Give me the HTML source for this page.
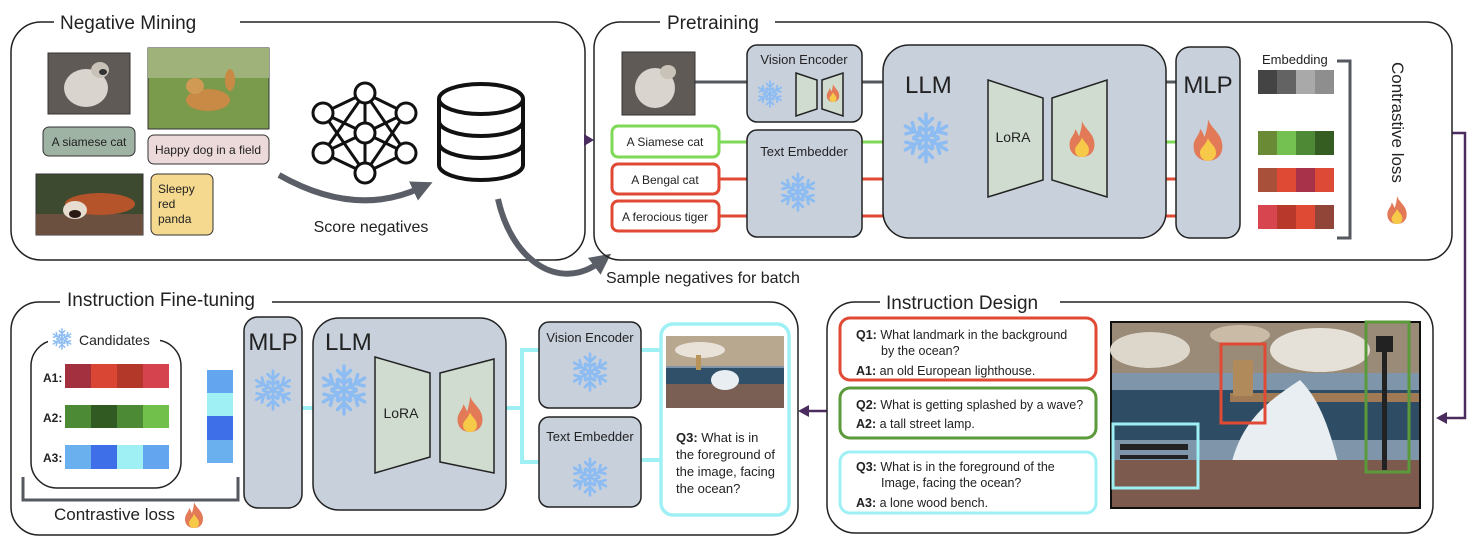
<!DOCTYPE html>
<html><head><meta charset="utf-8"><style>
html,body{margin:0;padding:0;background:#fff;}
svg{display:block;}
text{font-family:"Liberation Sans",sans-serif;fill:#222;}
</style></head><body>
<svg width="1478" height="550" viewBox="0 0 1478 550" xmlns="http://www.w3.org/2000/svg">
<defs>
<symbol id="sf" viewBox="-12 -12 24 24">
<g stroke="#8cbcf2" stroke-width="1.6" fill="none" stroke-linecap="round">
<g id="arm"><line x1="0" y1="0" x2="0" y2="-11"/><polyline points="-3,-9 0,-6 3,-9"/><polyline points="-2.5,-5 0,-3 2.5,-5"/></g>
<use href="#arm" transform="rotate(60)"/><use href="#arm" transform="rotate(120)"/><use href="#arm" transform="rotate(180)"/><use href="#arm" transform="rotate(240)"/><use href="#arm" transform="rotate(300)"/>
</g></symbol>
<symbol id="fire" viewBox="0 0 20 26">
<path d="M10,0 C12,6 19,9 19,17 C19,23 15,26 10,26 C5,26 1,23 1,17 C1,12 5,10 5,6 C7,8 7,10 8,11 C9,7 10,4 10,0Z" fill="#e27a58"/>
<path d="M10,12 C12,16 15,17 15,21 C15,24 13,26 10,26 C7,26 5,24 5,21 C5,18 8,17 10,12Z" fill="#f7c948"/>
</symbol>
<marker id="ag" markerWidth="3.5" markerHeight="3.5" refX="1.2" refY="1.75" orient="auto"><path d="M0,0 L3.5,1.75 L0,3.5Z" fill="#5a5e66"/></marker>
</defs>

<!-- ===== Negative Mining ===== -->
<rect x="11" y="22" width="574" height="238" rx="30" fill="none" stroke="#222" stroke-width="1.5"/>
<rect x="54" y="10" width="186" height="24" fill="#fff"/>
<text x="60" y="29" font-size="19">Negative Mining</text>
<!-- cat -->
<rect x="48" y="53" width="82" height="61" fill="#5f5a55" stroke="#333"/>
<ellipse cx="86" cy="88" rx="22" ry="19" fill="#d9d5ce"/>
<ellipse cx="100" cy="70" rx="9" ry="8" fill="#c9c2b8"/><ellipse cx="103" cy="72" rx="4" ry="3" fill="#333"/>
<!-- dog -->
<rect x="148" y="48" width="121" height="81" fill="#7a9a4c" stroke="#333"/>
<rect x="148" y="48" width="121" height="30" fill="#9fb27a"/>
<ellipse cx="208" cy="100" rx="22" ry="11" fill="#c88a45"/><ellipse cx="195" cy="86" rx="9" ry="8" fill="#d09a55"/><ellipse cx="230" cy="80" rx="5" ry="11" fill="#c88a45"/>
<!-- labels -->
<rect x="43" y="127" width="92" height="29" rx="6" fill="#9fb3a4" stroke="#333"/>
<text x="89" y="146" font-size="12" text-anchor="middle">A siamese cat</text>
<rect x="148" y="135" width="121" height="29" rx="6" fill="#ecd9d9" stroke="#333"/>
<text x="208" y="154" font-size="12" text-anchor="middle">Happy dog in a field</text>
<!-- red panda -->
<rect x="36" y="174" width="107" height="61" fill="#3d4a30" stroke="#333"/>
<rect x="36" y="214" width="107" height="21" fill="#6b5040"/>
<ellipse cx="100" cy="204" rx="35" ry="11" fill="#b5532a"/><ellipse cx="75" cy="210" rx="12" ry="9" fill="#e6dcd0"/><ellipse cx="75" cy="214" rx="6" ry="4" fill="#2a1a14"/>
<rect x="151" y="174" width="62" height="61" rx="6" fill="#f5d98f" stroke="#333"/>
<text x="158" y="193" font-size="12">Sleepy</text><text x="158" y="208" font-size="12">red</text><text x="158" y="223" font-size="12">panda</text>
<!-- NN icon -->
<g stroke="#111" stroke-width="3" fill="none">
<line x1="365" y1="93" x2="323" y2="113"/><line x1="365" y1="93" x2="406" y2="113"/>
<line x1="365" y1="93" x2="323" y2="153"/><line x1="365" y1="93" x2="406" y2="153"/>
<line x1="365" y1="173" x2="323" y2="113"/><line x1="365" y1="173" x2="406" y2="113"/>
<line x1="365" y1="173" x2="323" y2="153"/><line x1="365" y1="173" x2="406" y2="153"/>
<line x1="323" y1="113" x2="365" y2="133"/><line x1="406" y1="113" x2="365" y2="133"/>
<line x1="323" y1="153" x2="365" y2="133"/><line x1="406" y1="153" x2="365" y2="133"/>
<line x1="365" y1="93" x2="365" y2="173"/>
</g>
<g stroke="#111" stroke-width="3" fill="#fff">
<circle cx="365" cy="93" r="10"/><circle cx="323" cy="113" r="10"/><circle cx="406" cy="113" r="10"/><circle cx="365" cy="133" r="10"/><circle cx="323" cy="153" r="10"/><circle cx="406" cy="153" r="10"/><circle cx="365" cy="173" r="10"/>
</g>
<!-- DB -->
<g stroke="#111" stroke-width="4" fill="none">
<ellipse cx="481" cy="99" rx="42" ry="15"/>
<path d="M439,99 V165 A42,15 0 0 0 523,165 V99"/>
<path d="M439,121 A42,15 0 0 0 523,121"/>
<path d="M439,143 A42,15 0 0 0 523,143"/>
</g>
<!-- gray arrows -->
<path d="M279,175 Q355,218 420,188" stroke="#5a5e66" stroke-width="6" fill="none" marker-end="url(#ag)"/>
<text x="371" y="232" font-size="16" text-anchor="middle">Score negatives</text>
<path d="M498,199 C512,262 560,292 600,262" stroke="#5a5e66" stroke-width="6" fill="none" marker-end="url(#ag)"/>
<text x="606" y="283" font-size="16">Sample negatives for batch</text>

<!-- purple arrows -->
<g stroke="#4a2d5e" stroke-width="2.5" fill="none">
<line x1="585" y1="140" x2="588" y2="140"/>
<polyline points="1452,133 1465,133 1465,418 1444,418"/>
<line x1="827" y1="411" x2="806" y2="411"/>
</g>
<path d="M594,140 L584,134 L584,146Z" fill="#4a2d5e"/>
<path d="M1436,418 L1447,412 L1447,424Z" fill="#4a2d5e"/>
<path d="M798,411 L809,405 L809,417Z" fill="#4a2d5e"/>

<!-- ===== Pretraining ===== -->
<rect x="594" y="22" width="858" height="238" rx="26" fill="none" stroke="#222" stroke-width="1.5"/>
<rect x="660" y="10" width="115" height="24" fill="#fff"/>
<text x="667" y="29" font-size="19">Pretraining</text>
<g stroke-width="3">
<line x1="695" y1="82" x2="747" y2="82" stroke="#55585f"/>
<line x1="862" y1="82" x2="883" y2="82" stroke="#55585f"/>
<line x1="1166" y1="82" x2="1176" y2="82" stroke="#55585f"/>
<line x1="719" y1="142" x2="747" y2="142" stroke="#7ed957"/>
<line x1="862" y1="142" x2="883" y2="142" stroke="#7ed957"/>
<line x1="1166" y1="142" x2="1176" y2="142" stroke="#7ed957"/>
<line x1="719" y1="179" x2="747" y2="179" stroke="#e04a35"/>
<line x1="862" y1="179" x2="883" y2="179" stroke="#e04a35"/>
<line x1="1166" y1="179" x2="1176" y2="179" stroke="#e04a35"/>
<line x1="719" y1="216" x2="747" y2="216" stroke="#e04a35"/>
<line x1="862" y1="216" x2="883" y2="216" stroke="#e04a35"/>
<line x1="1166" y1="216" x2="1176" y2="216" stroke="#e04a35"/>
</g>
<rect x="622" y="52" width="73" height="63" fill="#5f5a55" stroke="#333"/>
<ellipse cx="655" cy="88" rx="20" ry="20" fill="#d9d5ce"/><ellipse cx="668" cy="72" rx="8" ry="7" fill="#c9c2b8"/>
<rect x="612" y="126" width="107" height="31" rx="6" fill="#fff" stroke="#7ed957" stroke-width="3"/>
<text x="665" y="146" font-size="12" text-anchor="middle">A Siamese cat</text>
<rect x="612" y="164" width="107" height="30" rx="6" fill="#fff" stroke="#e04a35" stroke-width="3"/>
<text x="665" y="184" font-size="12" text-anchor="middle">A Bengal cat</text>
<rect x="612" y="201" width="107" height="30" rx="6" fill="#fff" stroke="#e04a35" stroke-width="3"/>
<text x="665" y="221" font-size="12" text-anchor="middle">A ferocious tiger</text>
<rect x="747" y="45" width="115" height="77" rx="10" fill="#c8d0dc" stroke="#222" stroke-width="1.5"/>
<text x="804" y="64" font-size="13" text-anchor="middle">Vision Encoder</text>
<use href="#sf" x="756" y="80" width="28" height="28"/>
<path d="M796,73 L817,80 L817,109 L796,116Z" fill="#cfdccf" stroke="#222" stroke-width="1.5"/>
<path d="M822,80 L843,73 L843,116 L822,109Z" fill="#cfdccf" stroke="#222" stroke-width="1.5"/>
<use href="#fire" x="826" y="84" width="14" height="18"/>
<rect x="747" y="130" width="115" height="107" rx="10" fill="#c8d0dc" stroke="#222" stroke-width="1.5"/>
<text x="804" y="156" font-size="13" text-anchor="middle">Text Embedder</text>
<use href="#sf" x="778" y="172" width="40" height="40"/>
<rect x="883" y="45" width="283" height="193" rx="26" fill="#c8d0dc" stroke="#222" stroke-width="1.5"/>
<text x="905" y="93" font-size="24">LLM</text>
<use href="#sf" x="900" y="112" width="52" height="52"/>
<path d="M988,80 L1043,98 L1043,180 L988,197Z" fill="#cfdccf" stroke="#222" stroke-width="1.5"/>
<path d="M1052,98 L1107,80 L1107,197 L1052,180Z" fill="#cfdccf" stroke="#222" stroke-width="1.5"/>
<text x="1013" y="142" font-size="14" text-anchor="middle">LoRA</text>
<use href="#fire" x="1068" y="121" width="28" height="36"/>
<rect x="1176" y="47" width="64" height="191" rx="14" fill="#c8d0dc" stroke="#222" stroke-width="1.5"/>
<text x="1208" y="93" font-size="24" text-anchor="middle">MLP</text>
<use href="#fire" x="1192" y="118" width="32" height="44"/>
<text x="1262" y="64" font-size="13">Embedding</text>
<g>
<rect x="1258" y="70" width="19" height="24" fill="#444"/><rect x="1277" y="70" width="19" height="24" fill="#636363"/><rect x="1296" y="70" width="19" height="24" fill="#a9a9a9"/><rect x="1315" y="70" width="19" height="24" fill="#8e8e8e"/>
<rect x="1258" y="131" width="19" height="24" fill="#6a8a36"/><rect x="1277" y="131" width="19" height="24" fill="#74c050"/><rect x="1296" y="131" width="19" height="24" fill="#4e8a36"/><rect x="1315" y="131" width="19" height="24" fill="#355d22"/>
<rect x="1258" y="168" width="19" height="24" fill="#a8503a"/><rect x="1277" y="168" width="19" height="24" fill="#df4a35"/><rect x="1296" y="168" width="19" height="24" fill="#a8324a"/><rect x="1315" y="168" width="19" height="24" fill="#dd4a35"/>
<rect x="1258" y="205" width="19" height="24" fill="#d7464e"/><rect x="1277" y="205" width="19" height="24" fill="#b8382c"/><rect x="1296" y="205" width="19" height="24" fill="#de4a34"/><rect x="1315" y="205" width="19" height="24" fill="#904538"/>
</g>
<polyline points="1337,61 1350,61 1350,238 1337,238" stroke="#55585f" stroke-width="3" fill="none"/>
<text transform="translate(1392,62) rotate(90)" font-size="17">Contrastive loss</text>
<use href="#fire" x="1386" y="196" width="22" height="28"/>

<!-- ===== Instruction Fine-tuning ===== -->
<rect x="11" y="302" width="787" height="233" rx="28" fill="none" stroke="#222" stroke-width="1.5"/>
<rect x="60" y="288" width="212" height="24" fill="#fff"/>
<text x="67" y="306" font-size="19">Instruction Fine-tuning</text>
<rect x="31" y="340" width="150" height="148" rx="26" fill="none" stroke="#222" stroke-width="1.5"/>
<rect x="48" y="328" width="112" height="22" fill="#fff"/>
<use href="#sf" x="51" y="328" width="22" height="22"/>
<text x="79" y="345" font-size="14">Candidates</text>
<text x="43" y="382" font-size="12" font-weight="bold">A1:</text>
<text x="43" y="422" font-size="12" font-weight="bold">A2:</text>
<text x="43" y="462" font-size="12" font-weight="bold">A3:</text>
<rect x="65" y="364" width="26" height="24" fill="#a3303f"/><rect x="91" y="364" width="26" height="24" fill="#d94634"/><rect x="117" y="364" width="26" height="24" fill="#b4382a"/><rect x="143" y="364" width="26" height="24" fill="#d5444e"/>
<rect x="65" y="405" width="26" height="23" fill="#4d8a36"/><rect x="91" y="405" width="26" height="23" fill="#315a22"/><rect x="117" y="405" width="26" height="23" fill="#4d8a36"/><rect x="143" y="405" width="26" height="23" fill="#72c04c"/>
<rect x="65" y="445" width="26" height="24" fill="#6ab0ef"/><rect x="91" y="445" width="26" height="24" fill="#3f6fe8"/><rect x="117" y="445" width="26" height="24" fill="#9ef0f5"/><rect x="143" y="445" width="26" height="24" fill="#64a5f0"/>
<rect x="207" y="370" width="26" height="23" fill="#64a5f0"/><rect x="207" y="393" width="26" height="23" fill="#9ef0f5"/><rect x="207" y="416" width="26" height="24" fill="#3f6fe8"/><rect x="207" y="440" width="26" height="23" fill="#6ab0ef"/>
<polyline points="23,477 23,500 238,500 238,477" stroke="#55585f" stroke-width="3" fill="none"/>
<text x="54" y="520" font-size="17">Contrastive loss</text>
<use href="#fire" x="184" y="502" width="20" height="26"/>
<g stroke="#9ef0f5" stroke-width="4" fill="none">
<line x1="302" y1="408" x2="313" y2="408"/>
<line x1="506" y1="408" x2="522" y2="408"/>
<polyline points="539,350 522,350 522,462 539,462"/>
<line x1="641" y1="350" x2="661" y2="350"/>
<line x1="641" y1="460" x2="661" y2="460"/>
</g>
<rect x="244" y="317" width="58" height="191" rx="14" fill="#c8d0dc" stroke="#222" stroke-width="1.5"/>
<text x="273" y="350" font-size="24" text-anchor="middle">MLP</text>
<use href="#sf" x="252" y="368" width="42" height="44"/>
<rect x="313" y="318" width="193" height="192" rx="26" fill="#c8d0dc" stroke="#222" stroke-width="1.5"/>
<text x="325" y="350" font-size="24">LLM</text>
<use href="#sf" x="318" y="364" width="52" height="52"/>
<path d="M375,357 L430,373 L430,457 L375,473Z" fill="#cfdccf" stroke="#222" stroke-width="1.5"/>
<path d="M440,373 L494,359 L494,473 L440,462Z" fill="#cfdccf" stroke="#222" stroke-width="1.5"/>
<text x="401" y="418" font-size="14" text-anchor="middle">LoRA</text>
<use href="#fire" x="456" y="396" width="28" height="36"/>
<rect x="539" y="322" width="102" height="86" rx="10" fill="#c8d0dc" stroke="#222" stroke-width="1.5"/>
<text x="590" y="342" font-size="13" text-anchor="middle">Vision Encoder</text>
<use href="#sf" x="570" y="352" width="40" height="40"/>
<rect x="539" y="417" width="102" height="90" rx="10" fill="#c8d0dc" stroke="#222" stroke-width="1.5"/>
<text x="590" y="441" font-size="13" text-anchor="middle">Text Embedder</text>
<use href="#sf" x="570" y="457" width="40" height="40"/>
<rect x="661" y="324" width="128" height="191" rx="12" fill="#fff" stroke="#9ef0f5" stroke-width="3.5"/>
<g>
<rect x="666" y="336" width="118" height="72" fill="#7f94a8"/>
<rect x="666" y="336" width="118" height="30" fill="#b9a890"/>
<ellipse cx="700" cy="350" rx="25" ry="8" fill="#e8e2d8"/>
<rect x="666" y="368" width="118" height="16" fill="#2f5068"/>
<rect x="666" y="384" width="118" height="24" fill="#7a5f55"/>
<ellipse cx="725" cy="380" rx="14" ry="10" fill="#e9eef2"/>
<rect x="696" y="355" width="5" height="15" fill="#b8935a"/>
</g>
<g font-size="13">
<text x="676" y="442"><tspan font-weight="bold">Q3:</tspan> What is in</text>
<text x="676" y="459">the foreground of</text>
<text x="676" y="476">the image, facing</text>
<text x="676" y="493">the ocean?</text>
</g>

<!-- ===== Instruction Design ===== -->
<rect x="827" y="302" width="606" height="231" rx="28" fill="none" stroke="#222" stroke-width="1.5"/>
<rect x="880" y="290" width="180" height="24" fill="#fff"/>
<text x="886" y="309" font-size="19">Instruction Design</text>
<rect x="840" y="318" width="256" height="62" rx="10" fill="#fff" stroke="#e04a35" stroke-width="3"/>
<g font-size="12.5">
<text x="856" y="339"><tspan font-weight="bold">Q1:</tspan> What landmark in the background</text>
<text x="881" y="355">by the ocean?</text>
<text x="856" y="375"><tspan font-weight="bold">A1:</tspan> an old European lighthouse.</text>
</g>
<rect x="840" y="388" width="256" height="50" rx="10" fill="#fff" stroke="#5a9a3a" stroke-width="3"/>
<g font-size="12.5">
<text x="856" y="409"><tspan font-weight="bold">Q2:</tspan> What is getting splashed by a wave?</text>
<text x="856" y="428"><tspan font-weight="bold">A2:</tspan> a tall street lamp.</text>
</g>
<rect x="840" y="452" width="256" height="61" rx="10" fill="#fff" stroke="#9ef0f5" stroke-width="3"/>
<g font-size="12.5">
<text x="856" y="471"><tspan font-weight="bold">Q3:</tspan> What is in the foreground of the</text>
<text x="881" y="487">Image, facing the ocean?</text>
<text x="856" y="507"><tspan font-weight="bold">A3:</tspan> a lone wood bench.</text>
</g>
<g>
<rect x="1110" y="321" width="311" height="188" fill="#111"/>
<rect x="1112" y="323" width="307" height="184" fill="#7f95aa"/>
<rect x="1112" y="323" width="307" height="50" fill="#9a8a78"/>
<ellipse cx="1150" cy="350" rx="40" ry="18" fill="#ddd6ca"/>
<ellipse cx="1320" cy="350" rx="50" ry="22" fill="#e6e1d8"/>
<ellipse cx="1240" cy="335" rx="30" ry="10" fill="#c9bba6"/>
<rect x="1112" y="390" width="307" height="50" fill="#2e4c63"/>
<rect x="1230" y="393" width="189" height="9" fill="#a07a55"/>
<rect x="1233" y="360" width="20" height="36" fill="#b08a5a"/>
<path d="M1230,470 C1240,420 1270,400 1300,380 C1320,400 1330,430 1340,470Z" fill="#e9eef2"/>
<rect x="1112" y="460" width="307" height="47" fill="#7c5a4d"/>
<rect x="1382" y="340" width="5" height="130" fill="#222"/>
<rect x="1376" y="336" width="17" height="16" fill="#222"/>
<rect x="1120" y="444" width="68" height="6" fill="#222"/>
<rect x="1120" y="455" width="68" height="4" fill="#222"/>
</g>
<rect x="1221" y="344" width="44" height="79" fill="none" stroke="#e04a35" stroke-width="3"/>
<rect x="1366" y="322" width="43" height="150" fill="none" stroke="#5a9a3a" stroke-width="3"/>
<rect x="1113" y="424" width="85" height="64" fill="none" stroke="#9ef0f5" stroke-width="3"/>
</svg>
</body></html>
